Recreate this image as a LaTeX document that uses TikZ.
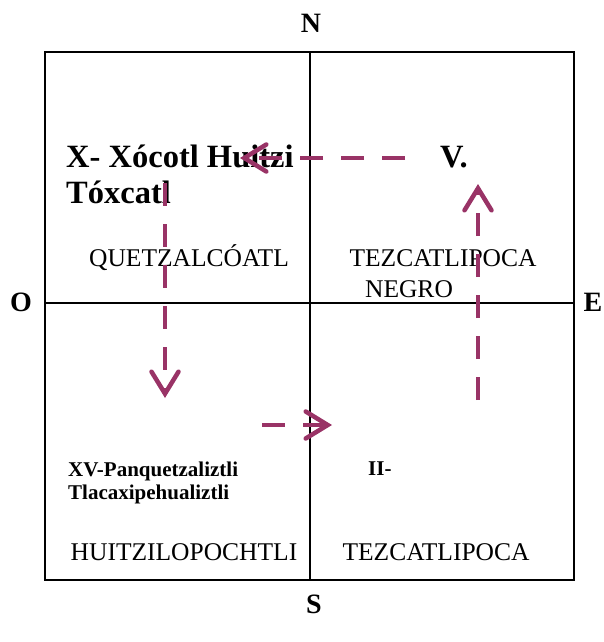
\documentclass[tikz,border=0pt]{standalone}
\usepackage{fontspec}
\setmainfont{Liberation Serif}
\usepackage{xcolor}
\usepackage{tikz}
\usetikzlibrary{arrows.meta,positioning}
\definecolor{plum}{HTML}{993366}
\tikzset{
  cframe/.style={line width=1.4pt,draw=black},
  clabel/.style={font=\fontsize{28}{30}\selectfont\bfseries,inner sep=0pt},
  cbig/.style={font=\fontsize{32.5}{36}\selectfont\bfseries,inner sep=0pt,anchor=base west,align=left},
  csmall/.style={font=\fontsize{21}{23}\selectfont\bfseries,inner sep=0pt,anchor=base west,align=left},
  cgod/.style={font=\fontsize{25.5}{28}\selectfont,inner sep=0pt},
  carr/.style={-{Straight Barb[length=22pt,width=27pt,line width=4.5pt,line cap=round]},
    line width=4.5pt,draw=plum,dash pattern=on 23pt off 18pt}
}
\begin{document}
\begin{tikzpicture}[x=1pt,y=-1pt]
  \useasboundingbox (0,0) rectangle (603,642);
  % frame and quadrants
  \draw[cframe] (45,52) rectangle (574,580);
  \draw[cframe] (310,52) -- (310,580);
  \draw[cframe] (45,303) -- (574,303);
  % cardinal points
  \node[clabel] (n) at (311,23) {N};
  \node[clabel] (o) at (21,302) {O};
  \node[clabel] (e) at (593,302) {E};
  \node[clabel] (s) at (314,604) {S};
  % months
  \node[cbig] (xocotl) at (66,203) {X- Xócotl Huitzi\\Tóxcatl};
  \node[cbig] (v) at (440,167) {V.};
  \node[csmall] (xv) at (68,499) {XV-Panquetzaliztli\\Tlacaxipehualiztli};
  \node[csmall] (ii) at (368,475) {II-};
  % gods
  \node[cgod] (quetz) at (189,258) {QUETZALCÓATL};
  \node[cgod] (tezn) at (443,258) {TEZCATLIPOCA};
  \node[cgod] (negro) at (409,289) {NEGRO};
  \node[cgod] (huitz) at (184,552) {HUITZILOPOCHTLI};
  \node[cgod] (tez) at (436,552) {TEZCATLIPOCA};
  % path of the years
  \coordinate (a1) at (405,158);
  \coordinate (a2) at (240,158);
  \coordinate (b1) at (165,183);
  \coordinate (b2) at (165,398);
  \coordinate (c1) at (262,425);
  \coordinate (c2) at (332,425);
  \coordinate (d1) at (478,400);
  \coordinate (d2) at (478,184);
  \draw[carr] (a1) -- (a2);
  \draw[carr] (b1) -- (b2);
  \draw[carr] (c1) -- (c2);
  \draw[carr] (d1) -- (d2);
\end{tikzpicture}
\end{document}
